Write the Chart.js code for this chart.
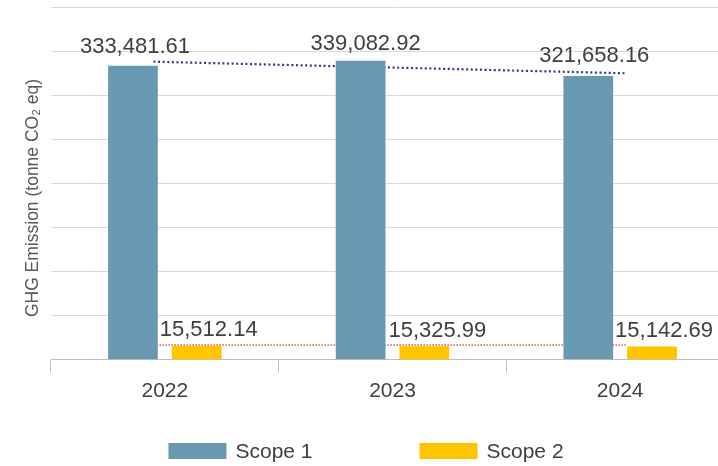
<!DOCTYPE html>
<html>
<head>
<meta charset="utf-8">
<script src="https://cdn.jsdelivr.net/npm/chart.js@4/dist/chart.umd.min.js"></script>
<style>
  html, body { margin: 0; padding: 0; background: #fff; overflow: hidden; width: 718px; height: 466px; }
  #wrap { width: 734px; height: 466px; }
</style>
</head>
<body>
<div id="wrap"><canvas id="chartGhg" width="734" height="466"></canvas></div>
<script>
  // values
  const years = ['2022', '2023', '2024'];
  const scope1 = [333481.61, 339082.92, 321658.16];
  const scope2 = [15512.14, 15325.99, 15142.69];

  // linear trendlines (start / end, in category units on a hidden axis)
  const trendX = [-0.05, 2.03];
  const trendScope1 = [338000, 324800];
  const trendScope2 = [16900, 16700];

  const yTicks = { min: 0, max: 400000, step: 50000 };

  const palette = {
    scope1: '#6899b1',
    scope2: '#ffc600',
    trend1: '#2b3990',
    trend2: '#e8553f',
    text: '#404040',
    title: '#595959',
    grid: '#d9d9d9',
    axis: '#bfbfbf',
  };
  const FONT = '"Liberation Sans", Arial, sans-serif';

  // hand-placed data label nudges (px from bar top centre), like the source
  const labelNudge = [
    { dx: [2, 5, 6], dy: [-12.5, -11, -13.8] },
    { dx: [12, 13, 12], dy: [-10.3, -9.7, -9.8] },
  ];

  function fmt(v) {
    return v.toLocaleString('en-US', { minimumFractionDigits: 2, maximumFractionDigits: 2 });
  }

  function pts(xs, ys) {
    return xs.map(function (x, i) { return { x: x, y: ys[i] }; });
  }

  const barLabels = {
    id: 'barLabels',
    afterDatasetsDraw: function (chart) {
      const ctx = chart.ctx;
      ctx.save();
      ctx.font = '22px ' + FONT;
      ctx.fillStyle = palette.text;
      ctx.textAlign = 'center';
      ctx.textBaseline = 'alphabetic';
      let b = 0;
      chart.data.datasets.forEach(function (ds, i) {
        const meta = chart.getDatasetMeta(i);
        if (meta.type !== 'bar') return;
        const nudge = labelNudge[b++];
        meta.data.forEach(function (el, j) {
          ctx.fillText(fmt(ds.data[j]), el.x + nudge.dx[j], el.y + nudge.dy[j]);
        });
      });
      ctx.restore();
    },
  };

  const bottomLegend = {
    id: 'bottomLegend',
    afterDraw: function (chart) {
      const ctx = chart.ctx;
      const items = chart.data.datasets.filter(function (d) { return d.type !== 'line'; });
      const boxW = 58, boxH = 16, gap = 9, spacing = 107, cy = 451;
      ctx.save();
      ctx.font = '21px ' + FONT;
      const widths = items.map(function (d) { return boxW + gap + ctx.measureText(d.label).width; });
      const total = widths.reduce(function (a, w) { return a + w; }, 0) + spacing * (items.length - 1);
      let x = chart.width / 2 - total / 2 - 1;
      items.forEach(function (d, i) {
        ctx.fillStyle = d.backgroundColor;
        ctx.fillRect(x, cy - boxH / 2, boxW, boxH);
        ctx.fillStyle = palette.text;
        ctx.textAlign = 'left';
        ctx.textBaseline = 'middle';
        ctx.fillText(d.label, x + boxW + gap, cy + 1);
        x += widths[i] + spacing;
      });
      ctx.restore();
    },
  };

  // Chart.js 4.5 reserves a bar slot per x axis in use, so the hidden trend axis
  // goes first: the two bars land in the middle slots, hence categoryPercentage 1.12
  const barOpts = { barPercentage: 0.78, categoryPercentage: 1.12, xAxisID: 'x', order: 1 };

  new Chart(document.getElementById('chartGhg'), {
    type: 'bar',
    data: {
      labels: years,
      datasets: [
        { type: 'line', label: 'Trend Scope 1', data: pts(trendX, trendScope1), xAxisID: 'xt', borderColor: palette.trend1, borderWidth: 2.2, borderDash: [2, 2.6], pointRadius: 0, fill: false, order: 2 },
        { type: 'line', label: 'Trend Scope 2', data: pts(trendX, trendScope2), xAxisID: 'xt', borderColor: palette.trend2, borderWidth: 1.5, borderDash: [1.5, 1.5], pointRadius: 0, fill: false, order: 2 },
        Object.assign({ label: 'Scope 1', data: scope1, backgroundColor: palette.scope1 }, barOpts),
        Object.assign({ label: 'Scope 2', data: scope2, backgroundColor: palette.scope2 }, barOpts),
      ],
    },
    options: {
      responsive: false,
      animation: false,
      layout: { padding: { left: 23, right: 0, top: 7, bottom: 56 } },
      plugins: { legend: { display: false }, tooltip: { enabled: false } },
      scales: {
        x: {
          type: 'category',
          offset: true,
          grid: { offset: true, drawOnChartArea: false, drawTicks: true, tickLength: 13, color: palette.axis },
          border: { display: true, color: palette.axis },
          ticks: { color: palette.text, font: { family: FONT, size: 21 }, padding: 6 },
        },
        xt: { type: 'linear', display: false, min: -0.5, max: 2.5, offset: false },
        y: {
          min: yTicks.min,
          max: yTicks.max,
          ticks: { display: false, stepSize: yTicks.step },
          grid: { color: palette.grid, drawTicks: false },
          border: { display: false },
          title: {
            display: true,
            text: 'GHG Emission (tonne CO₂ eq)      ',
            color: palette.title,
            font: { family: FONT, size: 17.5 },
            padding: { top: 0, bottom: 7 },
          },
        },
      },
    },
    plugins: [barLabels, bottomLegend],
  });
</script>
</body>
</html>
